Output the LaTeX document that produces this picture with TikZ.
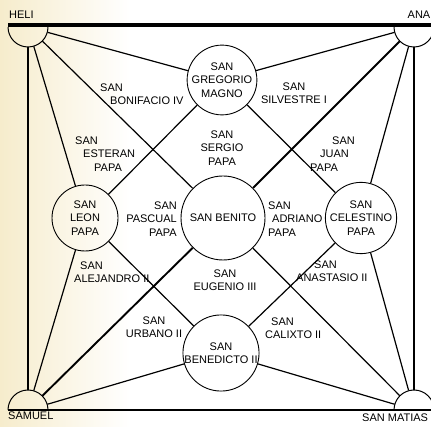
\documentclass[tikz,border=0pt]{standalone}
\usepackage{fontspec}
\setmainfont{Liberation Sans}
\newcommand\lblfont{\fontsize{11}{13.5}\selectfont}
\definecolor{cream}{RGB}{246,236,204}
\begin{document}
\begin{tikzpicture}[x=1pt,y=-1pt,
  pope/.style={circle,draw,line width=0.9pt,minimum size=66pt,inner sep=0pt,align=center,font=\lblfont},
  corner/.style={circle,minimum size=40pt,inner sep=0pt},
  conn/.style={line width=1.2pt},
  thickconn/.style={line width=1.9pt},
  semi/.style={line width=1pt},
  lbl/.style={inner sep=0pt,font=\lblfont,align=center},
  lbll/.style={inner sep=0pt,font=\lblfont,align=left,anchor=west},
  lblr/.style={inner sep=0pt,font=\lblfont,align=right,anchor=east}]
\useasboundingbox (0,0) rectangle (431,427);
\fill[white] (0,0) rectangle (431,427);
\fill[left color=cream,right color=white] (0,0) rectangle (130,427);

% corner nodes
\node[corner] (heli) at (28,27) {};
\node[corner] (ana) at (414,27) {};
\node[corner] (samuel) at (28,410) {};
\node[corner] (matias) at (414,410) {};

% circles
\node[pope] (greg) at (222,80) {SAN\\GREGORIO\\MAGNO};
\node[pope] (leon) at (85,218) {SAN\\LEON\\PAPA};
\node[pope] (cele) at (361,218) {SAN\\CELESTINO\\PAPA};
\node[pope] (bened) at (221,353) {SAN\\BENEDICTO II};
\node[pope,minimum size=84pt] (benito) at (223,218) {SAN BENITO};

% frame
\coordinate (tl) at (8,25.5);
\coordinate (tr) at (431,25.5);
\coordinate (bl) at (8,410);
\coordinate (br) at (431,410);
\draw[line width=4pt] (tl) -- (tr);
\draw[line width=1.2pt] (bl) -- (br);
\draw[semi] ([xshift=-20pt]heli.center) arc[start angle=180,end angle=360,radius=20pt];
\draw[semi] ([xshift=-20pt]ana.center) arc[start angle=180,end angle=360,radius=20pt];
\draw[semi] ([xshift=-20pt]samuel.center) arc[start angle=180,end angle=0,radius=20pt];
\draw[semi] ([xshift=-20pt]matias.center) arc[start angle=180,end angle=0,radius=20pt];
\draw[line width=1.9pt] (heli.south) -- (samuel.north);
\draw[line width=1.6pt] (ana.south) -- (matias.north);

% connectors
\draw[conn] (heli) -- (greg);
\draw[conn] (heli) -- (leon);
\draw[conn] (heli) -- (benito);
\draw[conn] (ana) -- (greg);
\draw[thickconn] (ana) -- (benito);
\draw[conn] (ana) -- (cele);
\draw[conn] (samuel) -- (leon);
\draw[thickconn] (samuel) -- (benito);
\draw[conn] (samuel) -- (bened);
\draw[conn] (matias) -- (cele);
\draw[conn] (matias) -- (benito);
\draw[conn] (matias) -- (bened);
\draw[conn] (greg) -- (leon);
\draw[conn] (greg) -- (cele);
\draw[conn] (bened) -- (leon);
\draw[conn] (bened) -- (cele);

% labels
\node[lbll] (bonif) at (100,94) {SAN\\\hspace*{10pt}BONIFACIO IV};
\node[lbll] (esteban) at (75,154) {SAN\\\hspace*{8pt}ESTERAN\\\hspace*{19pt}PAPA};
\node[lbl] (sergio) at (222,148) {SAN\\SERGIO\\PAPA};
\node[lbl] (silv) at (294,93) {SAN\\SILVESTRE I};
\node[lbll] (juan) at (310,154) {\hspace*{22pt}SAN\\\hspace*{10pt}JUAN\\PAPA};
\node[lblr] (pascual) at (177,219) {SAN\\PASCUAL\\PAPA};
\node[lbll] (adriano) at (268,219) {SAN\\\hspace*{4pt}ADRIANO\\PAPA};
\node[lbll] (alej) at (74,272) {\hspace*{6pt}SAN\\ALEJANDRO II};
\node[lbl] (eugenio) at (225,280) {SAN\\EUGENIO III};
\node[lbll] (anast) at (296,271) {\hspace*{18pt}SAN\\ANASTASIO II};
\node[lbl] (urbano) at (154,327) {SAN\\URBANO II};
\node[lbll] (calixto) at (265,328) {\hspace*{6pt}SAN\\CALIXTO II};
\node[lbll] (helil) at (9,15) {HELI};
\node[lblr] (anal) at (430.5,15) {ANA};
\node[lbll] (samuell) at (8,416) {SAMUEL};
\node[lbll] (matiasl) at (362,418) {SAN MATIAS};
\end{tikzpicture}
\end{document}
